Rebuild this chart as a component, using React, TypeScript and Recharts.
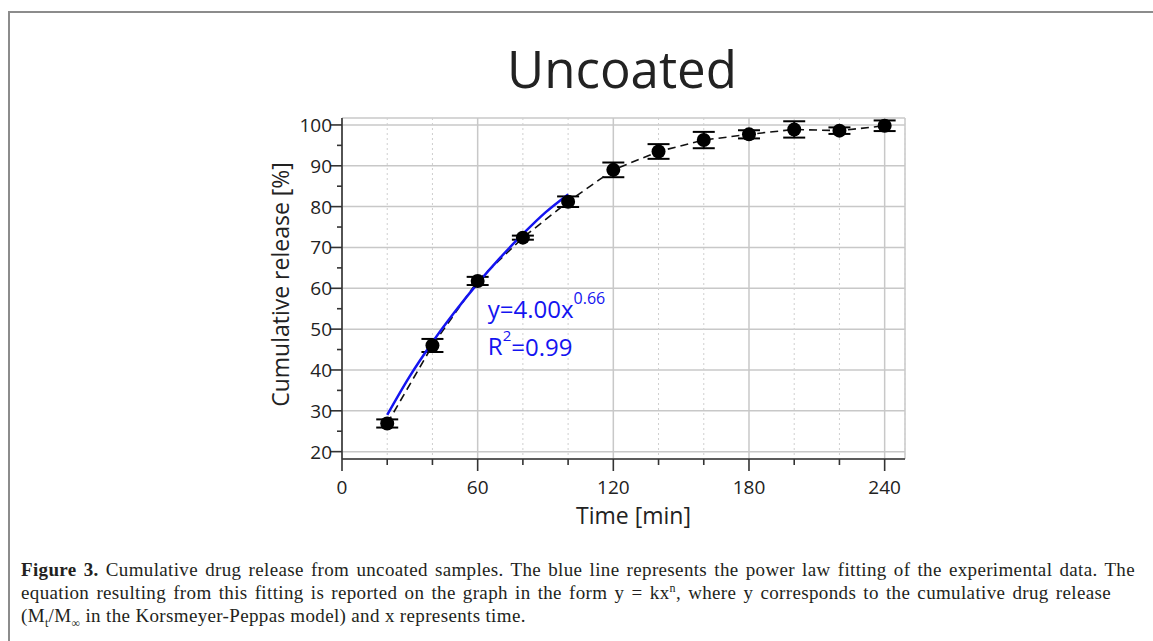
import {
  ComposedChart,
  Line,
  XAxis,
  YAxis,
  CartesianGrid,
  ErrorBar,
  ReferenceDot,
} from 'recharts';

const times = [20, 40, 60, 80, 100, 120, 140, 160, 180, 200, 220, 240];
const release = [26.9, 46.0, 61.8, 72.4, 81.2, 89.0, 93.5, 96.3, 97.7, 98.9, 98.6, 99.8];
const releaseErr = [1.0, 1.6, 1.0, 0.5, 1.3, 1.8, 1.8, 2.0, 1.0, 2.0, 0.8, 1.3];

// blue power-law fit
const fitTimes = [20, 30, 40, 50, 60, 70, 80, 90, 100];
const fitValues = [29.0, 38.5, 46.8, 54.3, 61.2, 67.5, 73.3, 78.6, 83.0];

const xTicks = [0, 20, 40, 60, 80, 100, 120, 140, 160, 180, 200, 220, 240];
const yTicks = [20, 25, 30, 35, 40, 45, 50, 55, 60, 65, 70, 75, 80, 85, 90, 95, 100];
const yGridTicks = [20, 30, 40, 50, 60, 70, 80, 90, 100];
const xGridSolid = [60, 120, 180, 240];
const xGridDotted = [20, 40, 80, 100, 140, 160, 200, 220];

const xDomain = [0, 249];
const yDomain = [18.2, 101.7];

const data = times.map((t, i) => ({ time: t, release: release[i], err: releaseErr[i] }));
const fitData = fitTimes.map((t, i) => ({ time: t, fit: fitValues[i] }));

const FONT = '"Open Sans", sans-serif';
const AXIS = '#333';
const BLUE = '#1414f0';

const XTick = (props: any) => {
  const { x, y, payload } = props;
  const major = payload.value % 60 === 0;
  return (
    <g>
      <line x1={x} y1={y} x2={x} y2={y + (major ? 12 : 6)} stroke={AXIS} strokeWidth={1.6} />
      {major && (
        <text x={x} y={y + 28} textAnchor="middle" dominantBaseline="central" fontSize={19} fill="#222" fontFamily={FONT}>
          {payload.value}
        </text>
      )}
    </g>
  );
};

const YTick = (props: any) => {
  const { x, y, payload } = props;
  const major = payload.value % 10 === 0;
  return (
    <g>
      <line x1={x - (major ? 12 : 5)} y1={y} x2={x} y2={y} stroke={AXIS} strokeWidth={1.6} />
      {major && (
        <text x={x - 10} y={y} textAnchor="end" dominantBaseline="central" fontSize={19} fill="#222" fontFamily={FONT}>
          {payload.value}
        </text>
      )}
    </g>
  );
};

const renderYLabel = (props: any) => {
  const { viewBox } = props;
  const cx = viewBox.x + 18;
  const cy = viewBox.y + viewBox.height / 2 - 4;
  return (
    <text
      x={cx}
      y={cy}
      transform={`rotate(-90, ${cx}, ${cy})`}
      textAnchor="middle"
      dominantBaseline="central"
      fontSize={23}
      fill="#222"
      fontFamily={FONT}
    >
      Cumulative release [%]
    </text>
  );
};

const renderXLabel = (props: any) => {
  const { viewBox } = props;
  const cx = viewBox.x + viewBox.width / 2 + 10;
  return (
    <text x={cx} y={viewBox.y + 56} textAnchor="middle" dominantBaseline="central" fontSize={23} fill="#222" fontFamily={FONT}>
      Time [min]
    </text>
  );
};

const renderEquation = (props: any) => {
  const { viewBox } = props;
  const x = viewBox.x;
  const y = viewBox.y;
  return (
    <g fontFamily={FONT} fill={BLUE}>
      <text x={x} y={y} dominantBaseline="central" fontSize={24}>
        y=4.00x
        <tspan dy={-11} fontSize={16}>0.66</tspan>
      </text>
      <text x={x} y={y + 37} dominantBaseline="central" fontSize={24}>
        R<tspan dy={-11} fontSize={15}>2</tspan>
        <tspan dy={11} fontSize={24}>=0.99</tspan>
      </text>
    </g>
  );
};

export default function App() {
  return (
    <div style={{ position: 'absolute', left: 0, top: 0, width: 1153, height: 641, background: '#fff', overflow: 'hidden' }}>
      <div
        style={{
          position: 'absolute',
          left: 8,
          top: 11,
          width: 1160,
          height: 650,
          borderLeft: '2px solid #8c8c8c',
          borderTop: '2px solid #8c8c8c',
        }}
      />
      <div
        style={{
          position: 'absolute',
          left: 0,
          width: 1244,
          top: 36,
          textAlign: 'center',
          fontFamily: FONT,
          fontSize: 51,
          lineHeight: '64px',
          color: '#222',
        }}
      >
        Uncoated
      </div>

      <div style={{ position: 'absolute', left: 0, top: 0 }}>
        <ComposedChart width={1153} height={641} margin={{ top: 118, right: 248, bottom: 122, left: 262 }}>
          <XAxis xAxisId="gridSolid" type="number" dataKey="time" domain={xDomain} ticks={xGridSolid} hide height={0} allowDataOverflow />
          <XAxis xAxisId="gridDot" type="number" dataKey="time" domain={xDomain} ticks={xGridDotted} hide height={0} allowDataOverflow />
          <YAxis yAxisId="grid" type="number" domain={yDomain} ticks={yGridTicks} hide width={0} allowDataOverflow />

          <CartesianGrid xAxisId="gridSolid" yAxisId="grid" stroke="#c8c8c8" strokeWidth={1.5} />
          <CartesianGrid xAxisId="gridDot" yAxisId="grid" horizontal={false} stroke="#cfcfcf" strokeWidth={1} strokeDasharray="2 3" />

          <XAxis
            xAxisId="main"
            type="number"
            dataKey="time"
            domain={xDomain}
            ticks={xTicks}
            interval={0}
            allowDataOverflow
            height={60}
            tickSize={0}
            tickMargin={0}
            tickLine={false}
            tick={<XTick />}
            axisLine={{ stroke: AXIS, strokeWidth: 1.6 }}
            label={renderXLabel}
          />
          <YAxis
            yAxisId="main"
            type="number"
            domain={yDomain}
            ticks={yTicks}
            interval={0}
            allowDataOverflow
            width={80}
            tickSize={0}
            tickMargin={0}
            tickLine={false}
            tick={<YTick />}
            axisLine={{ stroke: AXIS, strokeWidth: 1.6 }}
            label={renderYLabel}
          />

          <Line
            xAxisId="main"
            yAxisId="main"
            data={data}
            dataKey="release"
            type="linear"
            stroke="#111"
            strokeWidth={1.6}
            strokeDasharray="8 5"
            dot={{ r: 7, fill: '#000', stroke: '#000', strokeWidth: 0, strokeDasharray: '0' }}
            isAnimationActive={false}
          >
            <ErrorBar dataKey="err" direction="y" width={11} stroke="#000" strokeWidth={2} />
          </Line>
          <Line
            xAxisId="main"
            yAxisId="main"
            data={fitData}
            dataKey="fit"
            type="monotone"
            stroke={BLUE}
            strokeWidth={2.5}
            dot={false}
            isAnimationActive={false}
          />
          <ReferenceDot xAxisId="main" yAxisId="main" x={64.5} y={55} r={0} fill="none" stroke="none" label={renderEquation} />
        </ComposedChart>
      </div>

      <div
        style={{
          position: 'absolute',
          left: 21,
          top: 558,
          width: 1114,
          fontFamily: '"Liberation Serif", serif',
          fontSize: 19,
          letterSpacing: 0.35,
          lineHeight: '23px',
          color: '#231f20',
          whiteSpace: 'nowrap',
        }}
      >
        <div style={{ textAlign: 'justify', textAlignLast: 'justify', whiteSpace: 'normal' }}>
          <b>Figure 3.</b> Cumulative drug release from uncoated samples. The blue line represents the power law fitting of the experimental data. The
        </div>
        <div style={{ width: 1090, textAlign: 'justify', textAlignLast: 'justify', whiteSpace: 'normal' }}>
          equation resulting from this fitting is reported on the graph in the form y = kx<sup style={{ fontSize: 12, lineHeight: 0 }}>n</sup>, where y corresponds to the cumulative drug release
        </div>
        <div>
          (M<sub style={{ fontSize: 12, lineHeight: 0 }}>t</sub>/M<sub style={{ fontSize: 12, lineHeight: 0 }}>∞</sub> in the Korsmeyer-Peppas model) and x represents time.
        </div>
      </div>
    </div>
  );
}
